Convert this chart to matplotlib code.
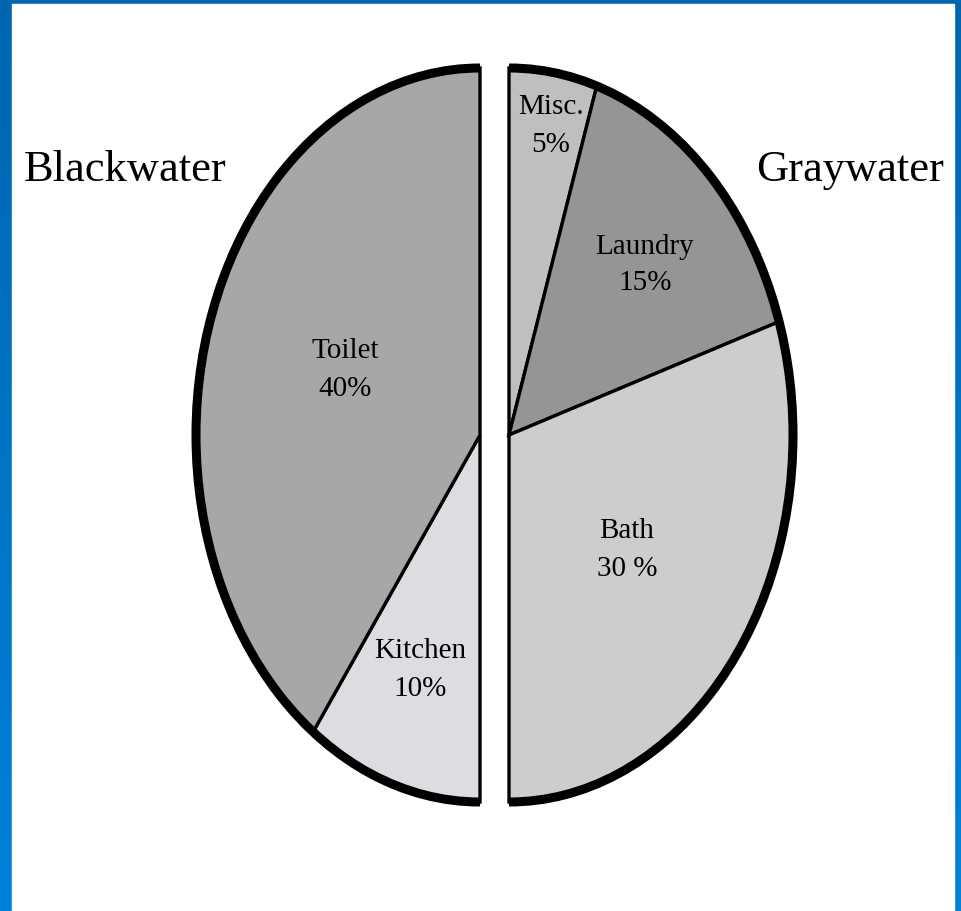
import numpy as np
import matplotlib
matplotlib.use('Agg')
import matplotlib.pyplot as plt
from matplotlib.patches import Arc, Rectangle

W, H = 961, 911

# data
gray_labels = ['Misc.\n5%', 'Laundry\n15%', 'Bath\n30 %']
gray_values = [5, 15, 30]
gray_colors = ['#c0bebf', '#979594', '#cdcdcd']
black_labels = ['Kitchen\n10%', 'Toilet\n40%']
black_values = [10, 40]
black_colors = ['#dddce1', '#a6a7a6']

# label spots in pixels (x, y from top)
gray_pos = [(551, 126), (645, 265), (627, 550)]
black_pos = [(420, 670), (345, 370)]

plt.rcParams['font.family'] = ['Liberation Serif', 'DejaVu Serif']

fig = plt.figure(figsize=(W / 100, H / 100), dpi=100)

# blue frame with a light gradient, white slide area
bg = fig.add_axes([0, 0, 1, 1])
grad = np.linspace(0, 1, 256)[:, None]
top = np.array([0, 102, 176]) / 255
bot = np.array([0, 130, 218]) / 255
img = top + (bot - top) * grad[:, :, None]
bg.imshow(img, extent=(0, W, H, 0), aspect='auto')
bg.add_patch(Rectangle((12, 4), 954 - 12, H - 4, color='white'))
bg.set_xlim(0, W)
bg.set_ylim(H, 0)
bg.axis('off')

# pie axes, stretched so the pie turns into an ellipse
cx, cy = 494.5, 435
a, b = 284, 367
off = 14.5 / a
lim = 1.1
ax = fig.add_axes([(cx - a * lim) / W, (H - cy - b * lim) / H,
                   2 * a * lim / W, 2 * b * lim / H])

wp = dict(edgecolor='black', linewidth=2.4)
w1, _ = ax.pie(gray_values + [50], colors=gray_colors + ['none'],
               startangle=90, counterclock=False, center=(off, 0),
               wedgeprops=wp)
w1[-1].set_visible(False)
w2, _ = ax.pie([50] + black_values, colors=['none'] + black_colors,
               startangle=90, counterclock=False, center=(-off, 0),
               wedgeprops=wp)
w2[0].set_visible(False)

ax.add_patch(Arc((off, 0), 2, 2, theta1=-90, theta2=90, lw=6.5, color='black'))
ax.add_patch(Arc((-off, 0), 2, 2, theta1=90, theta2=270, lw=6.5, color='black'))
ax.set_aspect('auto')
ax.set_xlim(-lim, lim)
ax.set_ylim(-lim, lim)
ax.axis('off')

# text layer in pixel coordinates
tx = fig.add_axes([0, 0, 1, 1])
tx.set_xlim(0, W)
tx.set_ylim(H, 0)
tx.axis('off')
for lab, (x, y) in zip(gray_labels + black_labels, gray_pos + black_pos):
    tx.text(x, y, lab, ha='center', va='center', fontsize=21,
            linespacing=1.55, multialignment='center')

tx.text(125, 170, 'Blackwater', ha='center', va='center', fontsize=32)
tx.text(850, 170, 'Graywater', ha='center', va='center', fontsize=32)

fig.savefig('out.png', dpi=100)
